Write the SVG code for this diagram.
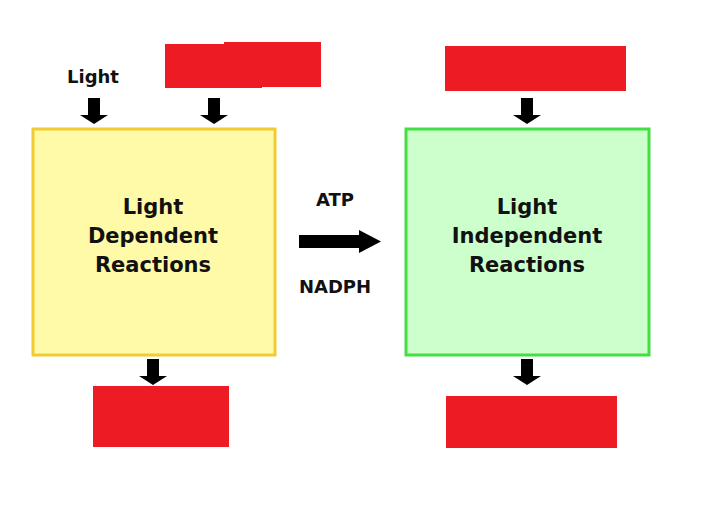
<svg xmlns="http://www.w3.org/2000/svg" width="724" height="522" viewBox="0 0 724 522">
<style>
.t{font-family:"DejaVu Sans","Liberation Sans",sans-serif;font-weight:bold;fill:#111;text-anchor:middle}
.s{font-size:18px}
.b{font-size:21px}
.red{fill:#ed1c24}
.arr{fill:#000}
</style>
<defs>
<path id="down" d="M-6,0 H6 V17 H14 L0,26 L-14,17 H-6 Z"/>
</defs>
<rect width="724" height="522" fill="#fff"/>
<g id="ldr">
<rect x="33" y="129" width="242" height="226" fill="#fffaa8" stroke="#f0cc30" stroke-width="3"/>
<text class="t b" x="153" y="214">Light</text>
<text class="t b" x="153" y="243">Dependent</text>
<text class="t b" x="153" y="272">Reactions</text>
</g>
<g id="lir">
<rect x="406" y="129" width="243" height="226" fill="#ccffcc" stroke="#44dd44" stroke-width="3"/>
<text class="t b" x="527" y="214">Light</text>
<text class="t b" x="527" y="243">Independent</text>
<text class="t b" x="527" y="272">Reactions</text>
</g>
<g id="light"><text class="t s" x="93" y="83">Light</text></g>
<g id="atp"><text class="t s" x="335" y="206">ATP</text></g>
<g id="nadph"><text class="t s" x="335" y="293">NADPH</text></g>
<g id="red1">
<rect class="red" x="165" y="44" width="97" height="44"/>
<rect class="red" x="224" y="42" width="97" height="45"/>
</g>
<g id="red2"><rect class="red" x="445" y="46" width="181" height="45"/></g>
<g id="red3"><rect class="red" x="93" y="386" width="136" height="61"/></g>
<g id="red4"><rect class="red" x="446" y="396" width="171" height="52"/></g>
<g id="connectors" class="arr">
<use href="#down" x="94" y="98"/>
<use href="#down" x="214" y="98"/>
<use href="#down" x="527" y="98"/>
<use href="#down" x="153" y="359"/>
<use href="#down" x="527" y="359"/>
<path d="M299,235 H359 V230 L381,241.5 L359,253 V248 H299 Z"/>
</g>
</svg>
